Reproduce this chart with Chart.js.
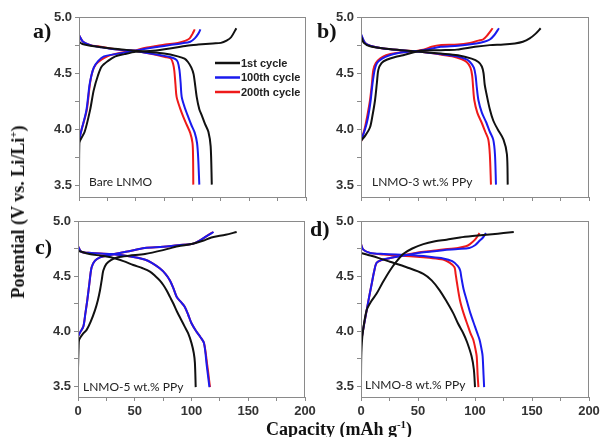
<!DOCTYPE html>
<html>
<head>
<meta charset="utf-8">
<script src="https://cdn.jsdelivr.net/npm/chart.js@4/dist/chart.umd.min.js"></script>
<style>
body{margin:0;background:#fff;width:600px;height:437px;position:relative;overflow:hidden}
canvas{position:absolute}
.titulo{position:absolute;font-family:"Liberation Serif",serif;font-weight:bold;font-size:18px;color:#111;white-space:nowrap;line-height:20px}
.titulo sup{font-size:11px;line-height:0}
</style>
</head>
<body>
<canvas id="g_a" width="330" height="210" style="left:0;top:0"></canvas>
<canvas id="g_b" width="300" height="210" style="left:300px;top:0"></canvas>
<canvas id="g_c" width="330" height="227" style="left:0;top:210px"></canvas>
<canvas id="g_d" width="300" height="227" style="left:300px;top:210px"></canvas>
<div class="titulo" id="tituloY" style="left:18px;top:212px;transform:translate(-50%,-50%) rotate(-90deg)">Potential (V vs. Li/Li<sup>+</sup>)</div>
<div class="titulo" id="tituloX" style="left:339px;top:429px;transform:translate(-50%,-50%)">Capacity (mAh g<sup>-1</sup>)</div>
<script>
// eixos
const ticksX = [0, 25, 50, 75, 100, 125, 150, 175, 200];
const rotulosX = [0, 50, 100, 150, 200];
const ticksY = [3.5, 3.75, 4.0, 4.25, 4.5, 4.75, 5.0];
const rotulosY = [3.5, 4.0, 4.5, 5.0];
const nomesCiclo = ['1st cycle', '100th cycle', '200th cycle'];
const corCiclo = ['#111111', '#1a1aee', '#ee1a1a'];

// a) Bare LNMO  [capacidade, potencial]
const a1Carga = [[0,3.55],[0.3,3.88],[5,3.98],[9.7,4.17],[13,4.35],[16.7,4.48],[20,4.56],[25.6,4.61],[32,4.65],[40,4.67],[50,4.69],[65,4.70],[80,4.72],[95,4.745],[105,4.755],[118,4.765],[125,4.77],[130,4.79],[134,4.82],[138.6,4.90]];
const a1Desc = [[0,4.78],[3,4.76],[10,4.745],[25,4.725],[40,4.71],[49,4.70],[60,4.69],[75,4.675],[87,4.65],[93,4.63],[96,4.60],[99,4.55],[101,4.49],[103.7,4.29],[106,4.18],[108,4.13],[111,4.05],[114,3.98],[116,3.85],[117,3.51]];
const a100Carga = [[0,3.9],[2.3,4.0],[6.5,4.17],[9.5,4.41],[13,4.55],[17,4.61],[22,4.65],[32,4.67],[49,4.70],[60,4.72],[70,4.735],[80,4.75],[90,4.765],[98,4.78],[102,4.81],[105,4.85],[107,4.89]];
const a100Desc = [[0,4.84],[3.5,4.78],[10,4.75],[20,4.73],[34,4.71],[49,4.70],[60,4.68],[72,4.66],[80,4.645],[85,4.625],[87,4.60],[88.5,4.53],[89.5,4.42],[90.5,4.29],[93,4.2],[96.3,4.11],[99,4.04],[102,3.97],[104,3.88],[105,3.75],[106,3.51]];
const a200Carga = [[0,3.91],[2.3,4.0],[6.8,4.17],[9.7,4.41],[12,4.52],[15,4.58],[19.7,4.62],[25,4.65],[31,4.67],[40,4.69],[49,4.70],[52,4.71],[60,4.73],[66.7,4.74],[76,4.755],[87,4.77],[94,4.79],[97.5,4.81],[100,4.85],[102,4.89]];
const a200Desc = [[0,4.84],[3.5,4.78],[10,4.75],[16.7,4.74],[34,4.71],[49,4.70],[60,4.68],[69.6,4.66],[76,4.645],[81,4.63],[83,4.58],[84,4.52],[85,4.40],[86,4.29],[89,4.19],[92,4.11],[95,4.04],[98,3.97],[100,3.88],[100.5,3.75],[100.7,3.51]];

// b) LNMO-3 wt.% PPy
const b1Carga = [[0,3.9],[4,3.95],[7.9,4.02],[10,4.12],[12.3,4.26],[14,4.42],[15.2,4.53],[18,4.59],[22.5,4.62],[30,4.645],[37,4.66],[52,4.70],[70,4.705],[84,4.71],[100,4.735],[113,4.75],[125,4.755],[135,4.765],[142,4.78],[148,4.81],[153,4.85],[157.6,4.90]];
const b1Desc = [[0,4.83],[2.5,4.77],[8,4.74],[20,4.72],[35,4.705],[52,4.69],[70,4.675],[85,4.66],[97,4.63],[103,4.60],[106,4.56],[107.5,4.50],[108.5,4.40],[110,4.32],[113,4.18],[116,4.08],[120,4.0],[125,3.91],[128,3.78],[128.7,3.51]];
const b100Carga = [[0,3.9],[3.5,4.0],[6,4.1],[8.5,4.26],[10,4.4],[12,4.53],[14,4.59],[18.5,4.63],[25,4.66],[33,4.68],[45,4.695],[52,4.70],[60,4.715],[70,4.735],[85,4.745],[101,4.765],[108,4.78],[113,4.80],[117,4.84],[121,4.90]];
const b100Desc = [[0,4.85],[3.5,4.77],[8,4.745],[19.6,4.72],[35,4.705],[52,4.69],[70,4.67],[84,4.65],[92,4.625],[95.6,4.60],[99,4.55],[100.5,4.48],[101.5,4.38],[103,4.26],[106,4.15],[110,4.06],[113,3.98],[116,3.91],[117.5,3.78],[118.4,3.51]];
const b200Carga = [[0,3.89],[3.5,4.02],[5.5,4.12],[7.9,4.26],[9.5,4.4],[10.8,4.53],[13,4.59],[16.7,4.63],[22,4.66],[31,4.68],[45,4.695],[54.6,4.71],[62,4.735],[69,4.75],[85,4.755],[95.6,4.77],[103,4.79],[107,4.80],[111,4.84],[115.5,4.90]];
const b200Desc = [[0,4.84],[3.5,4.77],[8,4.745],[19.6,4.72],[35,4.705],[52,4.69],[68,4.67],[80,4.65],[88,4.625],[92.7,4.60],[96,4.55],[97.5,4.48],[98.3,4.38],[99.4,4.26],[102,4.15],[105.9,4.06],[109,3.98],[111.7,3.91],[113,3.78],[114,3.51]];

// c) LNMO-5 wt.% PPy
const c1Carga = [[0,3.66],[0.5,3.85],[1,3.92],[4,3.97],[7.6,4.01],[11,4.08],[15,4.19],[17.5,4.28],[19.4,4.37],[21,4.47],[22.3,4.55],[25,4.61],[29,4.645],[35,4.67],[45,4.685],[59,4.70],[75,4.735],[88,4.77],[100,4.79],[110,4.82],[117.5,4.85],[130,4.875],[139.8,4.90]];
const c1Desc = [[0,4.73],[10,4.70],[20,4.685],[29,4.67],[40,4.635],[48.7,4.60],[57,4.57],[63.4,4.54],[68,4.50],[72,4.46],[75,4.42],[78,4.37],[81,4.31],[84,4.25],[87.5,4.17],[91,4.10],[94,4.04],[97,3.98],[100,3.89],[102,3.80],[103,3.71],[103.7,3.49]];
const c100Carga = [[0,3.95],[2,3.99],[4.7,4.04],[6.5,4.16],[8.2,4.28],[10,4.43],[12,4.58],[15,4.64],[19.4,4.67],[25,4.685],[32,4.70],[45,4.725],[58.7,4.755],[75,4.765],[88,4.78],[100,4.79],[105,4.81],[108.6,4.83],[113,4.86],[119.5,4.90]];
const c100Desc = [[0,4.77],[3,4.72],[11.7,4.71],[29,4.70],[45,4.68],[58.7,4.65],[65,4.62],[72,4.57],[77,4.52],[81,4.46],[84,4.39],[87,4.31],[91,4.26],[94,4.22],[97,4.15],[100,4.07],[104,4.00],[107.5,3.95],[111,3.89],[113.5,3.68],[115.8,3.49]];
const c200Carga = [[0,3.95],[2,3.99],[4.7,4.04],[6.5,4.16],[8.2,4.28],[10,4.43],[12,4.58],[15,4.64],[19.4,4.67],[25,4.685],[32,4.70],[45,4.725],[58.7,4.755],[75,4.765],[88,4.78],[100,4.79],[105,4.81],[108.6,4.83],[113,4.86],[119,4.90]];
const c200Desc = [[0,4.77],[3,4.72],[11.7,4.71],[29,4.70],[45,4.68],[58.7,4.65],[65,4.62],[72,4.57],[77,4.52],[81,4.46],[84,4.39],[87,4.31],[91,4.26],[94,4.22],[97,4.15],[100,4.07],[104,4.00],[107.5,3.95],[111,3.89],[114,3.68],[116.3,3.49]];

// d) LNMO-8 wt.% PPy
const d1Carga = [[0,3.57],[0.3,3.80],[1.5,3.98],[5,4.19],[9,4.27],[13.7,4.34],[19,4.44],[25.4,4.55],[31,4.63],[37,4.70],[45,4.75],[54.7,4.79],[65,4.815],[75,4.83],[86.8,4.85],[100,4.865],[115,4.88],[125,4.89],[134,4.90]];
const d1Desc = [[0,4.71],[5,4.695],[15,4.665],[25.4,4.63],[40,4.58],[54.7,4.52],[62,4.46],[69,4.37],[75,4.27],[81,4.16],[85,4.07],[89.7,3.98],[93,3.90],[97,3.77],[99,3.65],[100,3.49]];
const d100Carga = [[0,3.90],[2,4.02],[5,4.19],[7.5,4.33],[9.4,4.43],[11.5,4.54],[13.7,4.62],[18,4.645],[24,4.66],[35,4.68],[45,4.70],[55,4.715],[72,4.735],[85,4.745],[95,4.755],[100,4.78],[104,4.82],[107,4.85],[109.6,4.89]];
const d100Desc = [[0,4.79],[2,4.74],[8,4.71],[20,4.70],[43,4.69],[60,4.675],[72,4.66],[80,4.635],[85,4.59],[87,4.55],[88,4.49],[90,4.38],[92.7,4.28],[96,4.16],[100,4.04],[102,3.98],[104,3.92],[106,3.82],[106.7,3.77],[107.5,3.6],[108,3.49]];
const d200Carga = [[0,3.90],[2,4.02],[5,4.19],[7.5,4.33],[9.4,4.43],[11.5,4.54],[13.7,4.62],[18,4.645],[22.5,4.655],[30,4.675],[43,4.70],[55,4.72],[72,4.74],[85,4.755],[92,4.77],[95.6,4.79],[100,4.83],[104,4.89]];
const d200Desc = [[0,4.79],[2,4.74],[8,4.71],[20,4.695],[43,4.68],[60,4.665],[72,4.65],[78,4.62],[82,4.58],[83,4.52],[84,4.45],[86.8,4.28],[90,4.16],[94,4.04],[96,3.98],[98.5,3.92],[100.5,3.83],[101.5,3.77],[102.3,3.6],[103,3.49]];

const paineis = [
  {id:'g_a', letra:'a)', texto:'Bare LNMO', curvas:[[a1Carga,a1Desc],[a100Carga,a100Desc],[a200Carga,a200Desc]],
   eixoY:79, direita:24, topo:17, eixoX:13, comRotulos:false, letraPos:[33,38], textoPos:[89,182], legenda:true},
  {id:'g_b', letra:'b)', texto:'LNMO-3 wt.% PPy', curvas:[[b1Carga,b1Desc],[b100Carga,b100Desc],[b200Carga,b200Desc]],
   eixoY:61, direita:11, topo:17, eixoX:13, comRotulos:false, letraPos:[17,38], textoPos:[72,182], legenda:false},
  {id:'g_c', letra:'c)', texto:'LNMO-5 wt.% PPy', curvas:[[c1Carga,c1Desc],[c100Carga,c100Desc],[c200Carga,c200Desc]],
   eixoY:78, direita:25, topo:11, eixoX:40, comRotulos:true, letraPos:[35,44], textoPos:[83,177], legenda:false},
  {id:'g_d', letra:'d)', texto:'LNMO-8 wt.% PPy', curvas:[[d1Carga,d1Desc],[d100Carga,d100Desc],[d200Carga,d200Desc]],
   eixoY:61, direita:11, topo:11, eixoX:40, comRotulos:true, letraPos:[10,26], textoPos:[65,175], legenda:false}
];

function serie(pontos, cor){
  return {
    data: pontos.map(p => ({x: p[0], y: p[1]})),
    borderColor: cor,
    borderWidth: 2,
    pointRadius: 0,
    showLine: true,
    tension: 0.3,
    fill: false
  };
}

function extras(p){
  return {
    id: 'extras_' + p.id,
    afterDraw(chart){
      const ctx = chart.ctx;
      const area = chart.chartArea;
      ctx.save();
      //moldura
      ctx.strokeStyle = '#8a8a8a';
      ctx.lineWidth = 1;
      ctx.strokeRect(Math.round(area.left) + 0.5, Math.round(area.top) + 0.5,
                     Math.round(area.right - area.left) - 1, Math.round(area.bottom - area.top));
      //letra do painel
      ctx.fillStyle = '#111';
      ctx.font = 'bold 22px "Liberation Serif", serif';
      ctx.textBaseline = 'alphabetic';
      ctx.fillText(p.letra, p.letraPos[0], p.letraPos[1]);
      //nome da amostra
      ctx.font = '12px Lato, "Liberation Sans", sans-serif';
      ctx.textBaseline = 'middle';
      ctx.fillStyle = '#222';
      ctx.fillText(p.texto, p.textoPos[0], p.textoPos[1]);
      //legenda
      if(p.legenda){
        ctx.font = 'bold 11px "Liberation Sans", sans-serif';
        for(let i = 0; i < nomesCiclo.length; i++){
          const y = 63 + i * 14.5;
          ctx.strokeStyle = corCiclo[i];
          ctx.lineWidth = 2.5;
          ctx.beginPath();
          ctx.moveTo(215, y);
          ctx.lineTo(240, y);
          ctx.stroke();
          ctx.fillStyle = '#222';
          ctx.fillText(nomesCiclo[i], 241, y + 0.5);
        }
      }
      ctx.restore();
    }
  };
}

const fonteTick = {family: '"Liberation Sans", Arial, sans-serif', weight: 'bold', size: 13};

for(const p of paineis){
  const datasets = [];
  for(let i = 0; i < 3; i++){
    datasets.push(serie(p.curvas[i][0], corCiclo[i]));
    datasets.push(serie(p.curvas[i][1], corCiclo[i]));
  }
  new Chart(p.id, {
    type: 'scatter',
    data: {datasets: datasets},
    options: {
      responsive: false,
      animation: false,
      devicePixelRatio: 1,
      layout: {padding: {left: 0, top: p.topo, right: p.direita, bottom: 0}},
      plugins: {legend: {display: false}, tooltip: {enabled: false}},
      scales: {
        x: {
          type: 'linear', min: 0, max: 200,
          afterBuildTicks: s => { s.ticks = ticksX.map(v => ({value: v})); },
          afterFit: s => { s.height = p.eixoX; s.paddingLeft = 0; s.paddingRight = 0; },
          ticks: {
            autoSkip: false, maxRotation: 0, padding: 3, color: '#333', font: fonteTick,
            callback: v => (p.comRotulos && rotulosX.includes(v)) ? String(v) : ''
          },
          grid: {drawOnChartArea: false, drawTicks: true, tickLength: 4, color: '#8a8a8a'},
          border: {display: true, color: '#8a8a8a'}
        },
        y: {
          type: 'linear', min: 3.4, max: 5.0,
          afterBuildTicks: s => { s.ticks = ticksY.map(v => ({value: v})); },
          afterFit: s => { s.width = p.eixoY; s.paddingTop = 0; s.paddingBottom = 0; },
          ticks: {
            autoSkip: false, padding: 3, color: '#333', font: fonteTick,
            callback: v => rotulosY.includes(v) ? v.toFixed(1) : ''
          },
          grid: {drawOnChartArea: false, drawTicks: true, tickLength: 4, color: '#8a8a8a'},
          border: {display: true, color: '#8a8a8a'}
        }
      }
    },
    plugins: [extras(p)]
  });
}
</script>
</body>
</html>
